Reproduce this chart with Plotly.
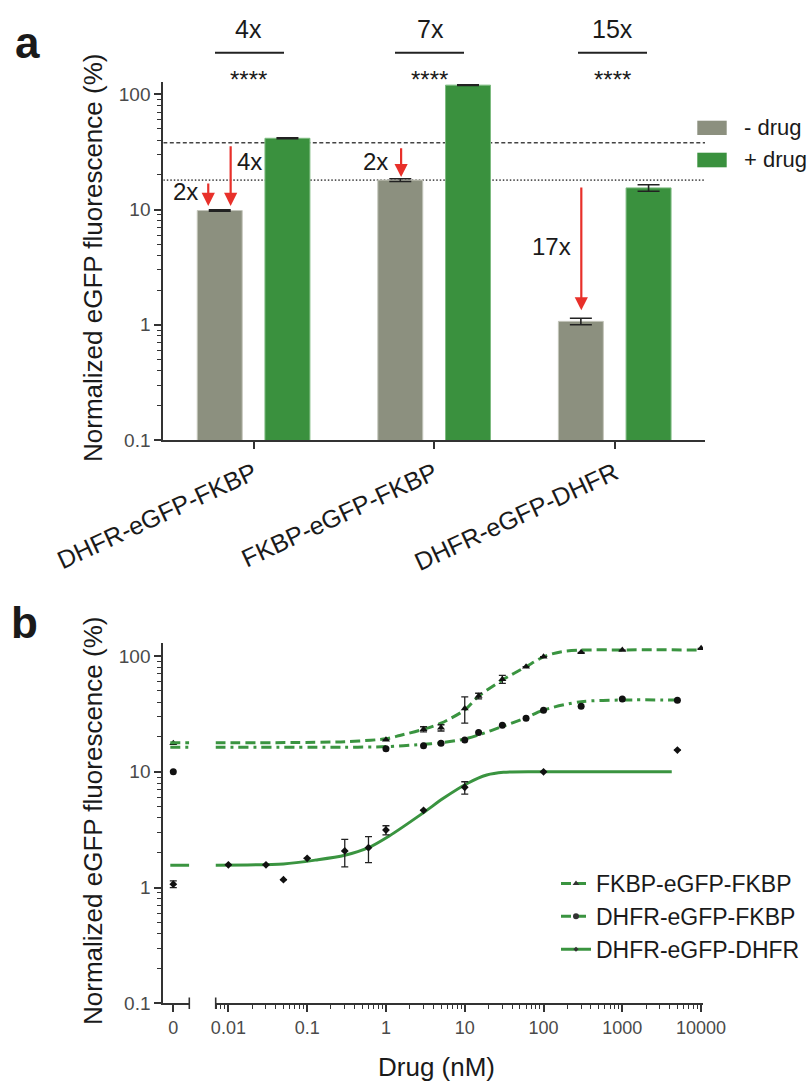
import math
import plotly.graph_objects as go

# ---------------- data: panel a ----------------
categories = ["DHFR-eGFP-FKBP", "FKBP-eGFP-FKBP", "DHFR-eGFP-DHFR"]
minus_drug = [9.8, 18.0, 1.07]
minus_drug_err = [0.15, 0.5, 0.07]
plus_drug = [41.5, 120.0, 15.4]
plus_drug_err = [0.4, 1.0, 1.0]
ref_dashed = 38.0
ref_dotted = 18.0
fold_top = ["4x", "7x", "15x"]
signif = ["****", "****", "****"]
arrow_labels = ["2x", "4x", "2x", "17x"]

# ---------------- data: panel b ----------------
fkbp_fkbp_x = [1, 3, 5, 10, 15, 30, 60, 100, 300, 1000, 10000]
fkbp_fkbp_y = [18.9, 23.3, 24.0, 35.3, 45.2, 63.0, 80.9, 98.6, 107.6, 112.6, 116.5]
fkbp_fkbp_err = [None, 1.2, 1.5, 9.0, 2.5, 5.0, None, None, None, None, None]
fkbp_fkbp_zero = 17.6

dhfr_fkbp_x = [1, 3, 5, 10, 15, 30, 60, 100, 300, 1000, 5000]
dhfr_fkbp_y = [15.8, 16.8, 17.6, 18.8, 21.8, 25.2, 29.0, 34.0, 36.8, 42.5, 41.4]
dhfr_fkbp_zero = 10.0

dhfr_dhfr_x = [0.01, 0.03, 0.05, 0.1, 0.3, 0.6, 1, 3, 10, 100, 5000]
dhfr_dhfr_y = [1.57, 1.57, 1.17, 1.79, 2.07, 2.21, 3.14, 4.65, 7.35, 10.0, 15.4]
dhfr_dhfr_err_up = [None, None, None, None, 0.54, 0.54, 0.28, None, 0.85, None, None]
dhfr_dhfr_err_dn = [None, None, None, None, 0.56, 0.57, 0.29, None, 0.95, None, None]
dhfr_dhfr_zero = 1.07
dhfr_dhfr_zero_err = 0.07

# fitted curves
fit_fkbp_fkbp_x = [0.0068, 0.3, 1, 1.5, 3, 5, 10, 15, 30, 60, 105, 170, 300, 1000, 10000]
fit_fkbp_fkbp_y = [17.8, 18.2, 19.3, 20.6, 23.3, 26.3, 34.2, 45.0, 62.0, 81.0, 100.0, 109.0, 112.5, 113.0, 113.0]
fit_dhfr_fkbp_x = [0.0068, 0.3, 1, 3, 5, 10, 15, 30, 60, 100, 300, 1000, 5000]
fit_dhfr_fkbp_y = [16.3, 16.3, 16.5, 17.3, 17.8, 19.2, 20.8, 24.6, 29.3, 34.2, 40.3, 41.7, 41.7]
fit_dhfr_dhfr_x = [0.0068, 0.05, 0.13, 0.3, 0.6, 1.1, 3, 5.35, 10.9, 19, 31, 100, 4240]
fit_dhfr_dhfr_y = [1.56, 1.60, 1.73, 1.90, 2.21, 2.79, 4.44, 5.90, 7.96, 9.37, 9.90, 10.0, 10.0]
zero_seg_x = [-0.3, 1.6]

series_names = ["FKBP-eGFP-FKBP", "DHFR-eGFP-FKBP", "DHFR-eGFP-DHFR"]
x_ticks_b = [0.01, 0.1, 1, 10, 100, 1000, 10000]
x_ticktext_b = ["0.01", "0.1", "1", "10", "100", "1000", "10000"]
y_ticks = [0.1, 1, 10, 100]
y_ticktext = ["0.1", "1", "10", "100"]

# ---------------- styling ----------------
FONT = "Liberation Sans, Arial, sans-serif"
GRAY = "#8c907f"
GREEN = "#3a913e"
CURVE = "#3a9440"
RED = "#e8302a"
AX = "#333333"
TXT = "#1a1a1a"
TICKTXT = "#4a4a4a"

OFF = 0
W, H = 811, 1082


def PX(x):
    return (x - OFF) / W


def PY(y):
    return 1 - (y - OFF) / H


minor_vals = [m * 10 ** e for e in range(-3, 5) for m in range(2, 10)]

fig = go.Figure()

# ---- panel a bars ----
fig.add_trace(go.Bar(
    x=[0, 1, 2], y=minus_drug, name="- drug", offsetgroup="m",
    marker=dict(color=GRAY, line=dict(color="#c4c6bb", width=1)),
    error_y=dict(type="data", array=minus_drug_err, color="#222", thickness=1.6, width=11),
    xaxis="x", yaxis="y", showlegend=False))
fig.add_trace(go.Bar(
    x=[0, 1, 2], y=plus_drug, name="+ drug", offsetgroup="p",
    marker=dict(color=GREEN, line=dict(color="#7dbb80", width=1)),
    error_y=dict(type="data", array=plus_drug_err, color="#222", thickness=1.6, width=11),
    xaxis="x", yaxis="y", showlegend=False))

# ---- panel b: values at zero drug ----
fig.add_trace(go.Scatter(x=[0], y=[fkbp_fkbp_zero], mode="markers", xaxis="x2", yaxis="y2",
                         marker=dict(symbol="triangle-up", size=7, color="#111"), showlegend=False))
fig.add_trace(go.Scatter(x=[0], y=[dhfr_fkbp_zero], mode="markers", xaxis="x2", yaxis="y2",
                         marker=dict(symbol="circle", size=7, color="#111"), showlegend=False))
fig.add_trace(go.Scatter(x=[0], y=[dhfr_dhfr_zero], mode="markers", xaxis="x2", yaxis="y2",
                         marker=dict(symbol="diamond", size=6, color="#111"),
                         error_y=dict(type="data", array=[dhfr_dhfr_zero_err], color="#222", thickness=1.3, width=3.5),
                         showlegend=False))

dash_a = "10px,5px"
dash_b = "10px,5px,3px,5px"

# curve continuations in the zero segment
fig.add_trace(go.Scatter(x=zero_seg_x, y=[fit_fkbp_fkbp_y[0]] * 2, mode="lines", xaxis="x2", yaxis="y2",
                         line=dict(color=CURVE, width=3, dash=dash_a), showlegend=False))
fig.add_trace(go.Scatter(x=zero_seg_x, y=[fit_dhfr_fkbp_y[0]] * 2, mode="lines", xaxis="x2", yaxis="y2",
                         line=dict(color=CURVE, width=3, dash=dash_b), showlegend=False))
fig.add_trace(go.Scatter(x=zero_seg_x, y=[fit_dhfr_dhfr_y[0]] * 2, mode="lines", xaxis="x2", yaxis="y2",
                         line=dict(color=CURVE, width=3), showlegend=False))

# fitted curves
fig.add_trace(go.Scatter(x=fit_fkbp_fkbp_x, y=fit_fkbp_fkbp_y, mode="lines", xaxis="x3", yaxis="y2",
                         line=dict(color=CURVE, width=3, dash=dash_a, shape="spline", smoothing=0.8), showlegend=False))
fig.add_trace(go.Scatter(x=fit_dhfr_fkbp_x, y=fit_dhfr_fkbp_y, mode="lines", xaxis="x3", yaxis="y2",
                         line=dict(color=CURVE, width=3, dash=dash_b, shape="spline", smoothing=0.8), showlegend=False))
fig.add_trace(go.Scatter(x=fit_dhfr_dhfr_x, y=fit_dhfr_dhfr_y, mode="lines", xaxis="x3", yaxis="y2",
                         line=dict(color=CURVE, width=3, shape="spline", smoothing=0.8), showlegend=False))

# data points
fig.add_trace(go.Scatter(x=fkbp_fkbp_x, y=fkbp_fkbp_y, mode="markers", xaxis="x3", yaxis="y2",
                         marker=dict(symbol="triangle-up", size=7, color="#111"),
                         error_y=dict(type="data", array=fkbp_fkbp_err, color="#222", thickness=1.3, width=3.5),
                         showlegend=False))
fig.add_trace(go.Scatter(x=dhfr_fkbp_x, y=dhfr_fkbp_y, mode="markers", xaxis="x3", yaxis="y2",
                         marker=dict(symbol="circle", size=7, color="#111"), showlegend=False))
fig.add_trace(go.Scatter(x=dhfr_dhfr_x, y=dhfr_dhfr_y, mode="markers", xaxis="x3", yaxis="y2",
                         marker=dict(symbol="diamond", size=6, color="#111"),
                         error_y=dict(type="data", symmetric=False, array=dhfr_dhfr_err_up,
                                      arrayminus=dhfr_dhfr_err_dn, color="#222", thickness=1.3, width=3.5),
                         showlegend=False))

# legend entries for panel b
leg_styles = [("triangle-up", dash_a, 6), ("circle", dash_a, 6), ("diamond", "solid", 4)]
for nm, (sym, dsh, sz) in zip(series_names, leg_styles):
    fig.add_trace(go.Scatter(x=[None], y=[None], mode="lines+markers", name=nm, xaxis="x3", yaxis="y2",
                             line=dict(color=CURVE, width=3, dash=dsh),
                             marker=dict(symbol=sym, size=sz, color="#333")))

axis_common = dict(showline=True, linecolor=AX, linewidth=2, ticks="outside", tickcolor=AX,
                   tickwidth=1.5, ticklen=7, showgrid=False, zeroline=False, automargin=False)
minor_common = dict(ticks="outside", ticklen=4, tickcolor=AX, tickwidth=1.2, showgrid=False)

shapes = []
# reference lines (behind bars)
shapes.append(dict(type="line", xref="x", yref="y", x0=-0.5, x1=2.5, y0=ref_dashed, y1=ref_dashed,
                   line=dict(color="#444", width=1.6, dash="4px,2.5px"), layer="below"))
shapes.append(dict(type="line", xref="x", yref="y", x0=-0.5, x1=2.5, y0=ref_dotted, y1=ref_dotted,
                   line=dict(color="#555", width=1.6, dash="1.5px,2px"), layer="below"))
# top comparison lines
for xa, xb in [(215, 284), (395, 464), (578, 647)]:
    shapes.append(dict(type="line", xref="paper", yref="paper", x0=PX(xa), x1=PX(xb), y0=PY(52.7), y1=PY(52.7),
                       line=dict(color="#222", width=2)))
# axis break caps in panel b
for xc in [189.3, 215.7]:
    shapes.append(dict(type="line", xref="paper", yref="paper", x0=PX(xc), x1=PX(xc), y0=PY(997.5), y1=PY(1009),
                       line=dict(color=AX, width=1.6)))
# legend swatches panel a
shapes.append(dict(type="rect", xref="paper", yref="paper", x0=PX(697.3), x1=PX(726.7), y0=PY(135), y1=PY(120.7),
                   fillcolor=GRAY, line=dict(width=0)))
shapes.append(dict(type="rect", xref="paper", yref="paper", x0=PX(697.3), x1=PX(726.7), y0=PY(167.3), y1=PY(152.7),
                   fillcolor=GREEN, line=dict(width=0)))

ann = []


def text(x, y, s, size, color=TXT, bold=False, angle=0, xanchor="center"):
    ann.append(dict(x=PX(x), y=PY(y), xref="paper", yref="paper", text=("<b>%s</b>" % s) if bold else s,
                    showarrow=False, font=dict(family=FONT, size=size, color=color), textangle=angle,
                    xanchor=xanchor, yanchor="middle"))


text(27, 42, "a", 44, bold=True)
text(24, 622, "b", 44, bold=True)
for xc, lab in zip([248, 430, 612.5], fold_top):
    text(xc, 29, lab, 25)
for xc, lab in zip([248.7, 429.2, 612], signif):
    text(xc, 79.5, lab, 24)
text(185, 191, arrow_labels[0], 24)
text(249, 161, arrow_labels[1], 24)
text(375.5, 161, arrow_labels[2], 24)
text(551.7, 246.5, arrow_labels[3], 24)
text(742, 128, "- drug", 22, xanchor="left")
text(742, 160, "+ drug", 22, xanchor="left")
text(93, 258, "Normalized eGFP fluorescence (%)", 26, angle=-90)
text(93, 821, "Normalized eGFP fluorescence (%)", 26, angle=-90)
text(436.7, 1067, "Drug (nM)", 26)

# fold-change arrows (tail at reference line, tip at bar)
arrow_specs = [(-0.251, ref_dotted, minus_drug[0], 2, 4.5),
               (-0.127, ref_dashed, minus_drug[0], 2, 4.5),
               (0.817, ref_dashed, minus_drug[1], 4, 3),
               (1.815, ref_dotted, minus_drug[2], 6, 11)]
for xpos, frm, to, s0, s1 in arrow_specs:
    ann.append(dict(x=xpos, y=math.log10(to), ax=xpos, ay=math.log10(frm), xref="x", yref="y",
                    axref="x", ayref="y", text="", showarrow=True, arrowhead=2, arrowsize=1.2,
                    arrowwidth=2.2, arrowcolor=RED, standoff=s1, startstandoff=s0))

fig.update_layout(
    width=W, height=H, autosize=False,
    margin=dict(l=0, r=0, t=0, b=0, autoexpand=False),
    paper_bgcolor="white", plot_bgcolor="white",
    font=dict(family=FONT, color=TXT),
    barmode="group", bargap=0.25, bargroupgap=0.336,
    xaxis=dict(domain=[PX(163.3), PX(705)], range=[-0.5, 2.5], tickvals=[0, 1, 2], ticktext=categories,
               tickangle=-25, tickfont=dict(size=25, color=TXT), anchor="y", **axis_common),
    yaxis=dict(domain=[PY(440), PY(81.7)], type="log", range=[-1, 2.109], tickvals=y_ticks,
               ticktext=y_ticktext, tickfont=dict(size=19, color=TICKTXT), anchor="x",
               minor=dict(tickvals=minor_vals, **minor_common), **axis_common),
    xaxis2=dict(domain=[PX(163.3), PX(189.3)], range=[-1, 1.6], tickvals=[0], ticktext=["0"],
                tickfont=dict(size=18, color=TICKTXT), anchor="y2", **axis_common),
    xaxis3=dict(domain=[PX(215.7), PX(703)], type="log", range=[-2.161, 4.024], tickvals=x_ticks_b,
                ticktext=x_ticktext_b, tickfont=dict(size=18, color=TICKTXT), anchor="y2",
                minor=dict(tickvals=minor_vals, **minor_common), **axis_common),
    yaxis2=dict(domain=[PY(1003.3), PY(643.3)], type="log", range=[-1, 2.11], tickvals=y_ticks,
                ticktext=y_ticktext, tickfont=dict(size=19, color=TICKTXT), anchor="x2",
                minor=dict(tickvals=minor_vals, **minor_common), **axis_common),
    legend=dict(x=PX(556), y=PY(862), xanchor="left", yanchor="top", font=dict(size=23, color=TXT),
                bgcolor="rgba(0,0,0,0)", itemwidth=30, tracegroupgap=0),
    shapes=shapes, annotations=ann,
)

fig.write_html("out.html", config={"displayModeBar": False},
               post_script="document.body.style.margin='0px';")
